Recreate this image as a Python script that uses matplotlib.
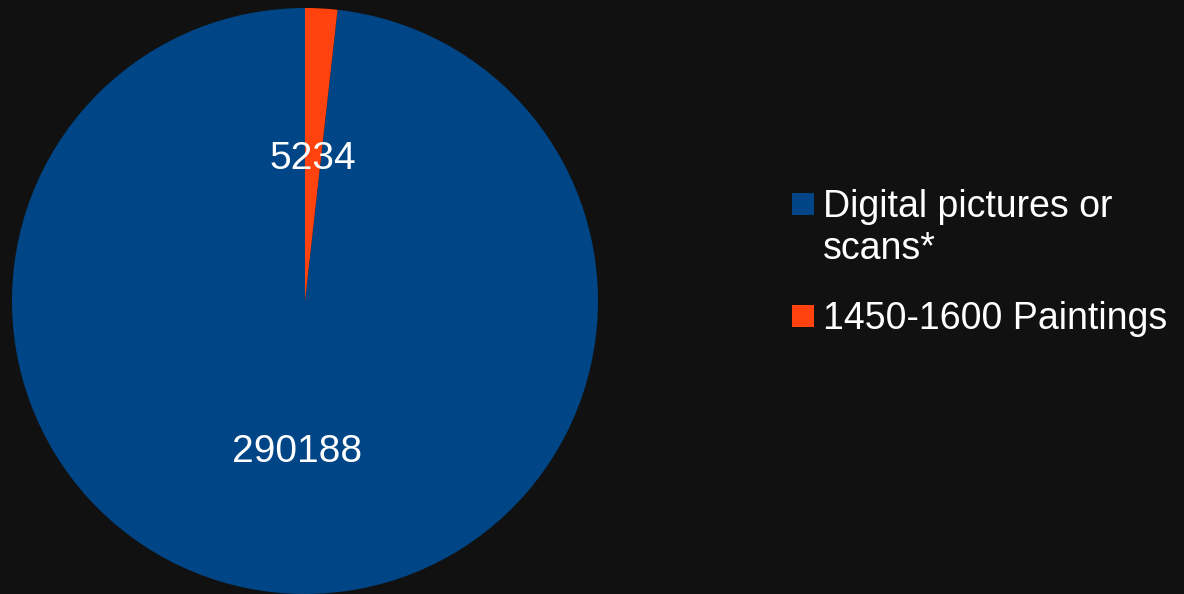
import matplotlib.pyplot as plt
from matplotlib.patches import Rectangle

plt.rcParams["font.family"] = ["Liberation Sans", "DejaVu Sans"]

labels = ["Digital pictures or\nscans*", "1450-1600 Paintings"]
values = [290188, 5234]
colors = ["#004586", "#ff420e"]
bg = "#111111"

fig = plt.figure(figsize=(11.84, 5.94), dpi=100, facecolor=bg)
ax = fig.add_axes([12 / 1184, 0, 586 / 1184, 586 / 594])
ax.set_facecolor(bg)

vals = iter(values)
wedges, texts, autotexts = ax.pie(
    values, colors=colors, startangle=90, counterclock=True,
    autopct=lambda p: f"{next(vals)}", pctdistance=0.5,
    wedgeprops=dict(linewidth=0),
    textprops=dict(color="white", fontsize=28),
)
# labels sit a few pixels lower in the original
for t in autotexts:
    x, y = t.get_position()
    t.set_position((x, y - 4.5 / 293))
ax.set_xlim(-1, 1)
ax.set_ylim(-1, 1)
ax.set_aspect("equal")

# legend drawn by hand so the swatch sits on the first line
legend_y = [204, 316]
for lab, col, y in zip(labels, colors, legend_y):
    fy = 1 - y / 594
    fig.add_artist(Rectangle((792 / 1184, fy - 11 / 594), 22 / 1184, 22 / 594,
                             transform=fig.transFigure, color=col, lw=0))
    fig.text(823 / 1184, fy + 15 / 594, lab, color="white", fontsize=27,
             va="top", ha="left", linespacing=1.2)

fig.savefig("out.png", dpi=100, facecolor=bg)
